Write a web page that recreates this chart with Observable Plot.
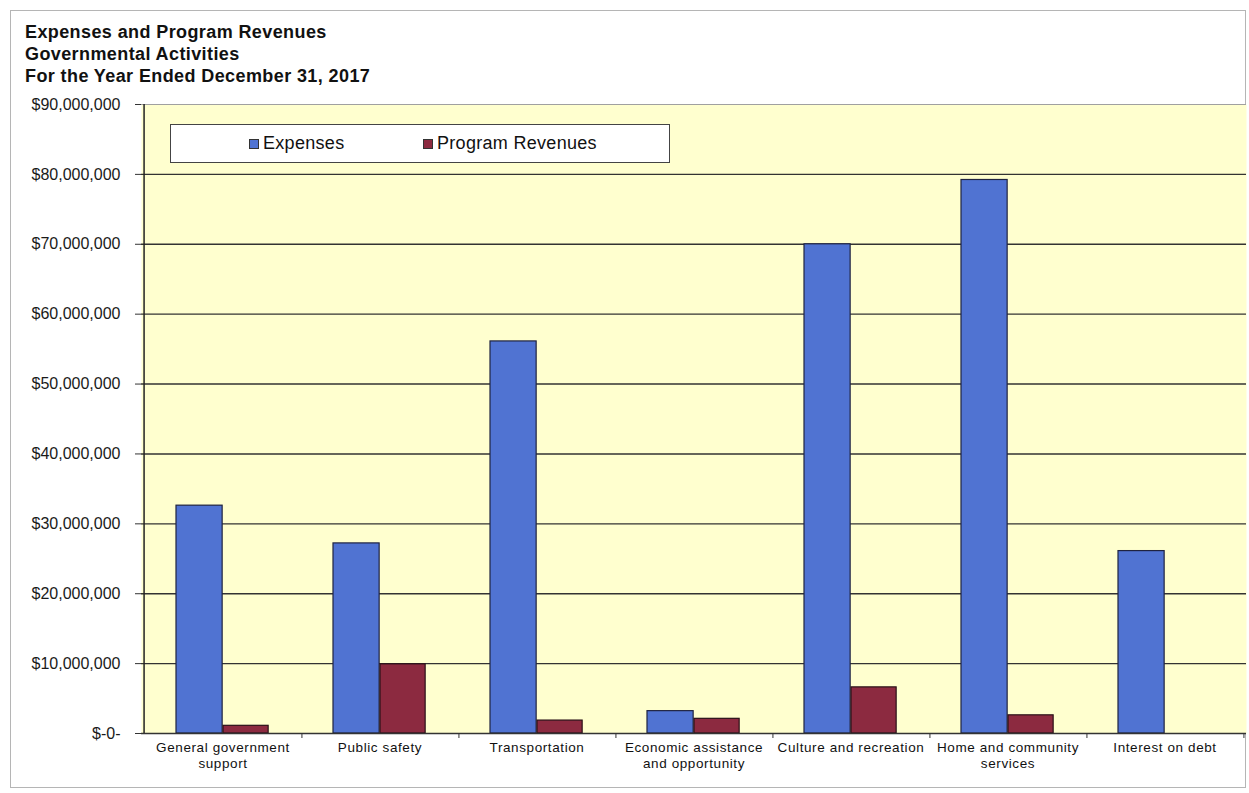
<!DOCTYPE html>
<html>
<head>
<meta charset="utf-8">
<script src="https://cdn.jsdelivr.net/npm/d3@7"></script>
<script src="https://cdn.jsdelivr.net/npm/@observablehq/plot@0.6"></script>
<style>
  html, body { margin: 0; padding: 0; background: #fff; }
  body { width: 1249px; height: 793px; position: relative; overflow: hidden; font-family: "Liberation Sans", Arial, sans-serif; }
  #frame { position: absolute; left: 10px; top: 10px; width: 1236px; height: 778px; border: 1px solid #b5b5b5; box-sizing: border-box; }
  #title { position: absolute; left: 25px; top: 21px; font-weight: bold; font-size: 18px; letter-spacing: 0.4px; line-height: 22px; color: #111; }
  #chart { position: absolute; left: 0; top: 90px; }
  #chart svg g[aria-label="x-axis tick label"] text { letter-spacing: 0.6px; }
  #legend { position: absolute; left: 170px; top: 124px; width: 500px; height: 39px; background: #fff; border: 1.8px solid #444; box-sizing: border-box; font-size: 18px; letter-spacing: 0.3px; color: #111; }
  .item { position: absolute; top: 8px; display: flex; align-items: center; }
  .sw { width: 8px; height: 8px; border: 1px solid #333; margin-right: 4px; }
</style>
</head>
<body>
<div id="frame"></div>
<div id="title">Expenses and Program Revenues<br>Governmental Activities<br>For the Year Ended December 31, 2017</div>
<div id="chart"></div>
<div id="legend">
  <div class="item" style="left:78px"><div class="sw" style="background:#5073d2"></div>Expenses</div>
  <div class="item" style="left:252px"><div class="sw" style="background:#8c2a40"></div>Program Revenues</div>
</div>
<script>
const categories = [
  "General government\nsupport",
  "Public safety",
  "Transportation",
  "Economic assistance\nand opportunity",
  "Culture and recreation",
  "Home and community\nservices",
  "Interest on debt"
];
const expenses = [32600000, 27200000, 56100000, 3200000, 70000000, 79200000, 26100000];
const programRevenues = [1100000, 9900000, 1850000, 2100000, 6600000, 2600000, 0];
const yTicks = [0, 10000000, 20000000, 30000000, 40000000, 50000000, 60000000, 70000000, 80000000, 90000000];

const expData = categories.map((c, i) => ({category: c, value: expenses[i]}));
const revData = categories.map((c, i) => ({category: c, value: programRevenues[i]}));
const fmt = d => d === 0 ? "$-0-" : "$" + d3.format(",")(d);

const W = 1249, H = 703;
const ml = 141, mr = 3;
const step = (W - ml - mr) / categories.length;
const half = step / 2;

const chart = Plot.plot({
  width: W,
  height: H,
  marginLeft: ml,
  marginRight: mr,
  marginTop: 14,
  marginBottom: 60,
  style: {fontFamily: "'Liberation Sans', Arial, sans-serif", color: "#111", background: "transparent"},
  x: {domain: categories, padding: 0, label: null},
  y: {domain: [0, 90000000], label: null},
  marks: [
    Plot.frame({fill: "#ffffcf", stroke: "none"}),
    Plot.ruleY(yTicks.filter(d => d > 0 && d < 90000000), {stroke: "#333", strokeWidth: 1.4}),
    Plot.ruleY([90000000], {stroke: "#a0a0a0", strokeWidth: 1.2}),
    Plot.barY(expData, {x: "category", y: "value", fill: "#5073d2", stroke: "#1f2340", strokeWidth: 1.2, insetLeft: 32, insetRight: step - 79}),
    Plot.barY(revData.filter(d => d.value > 0), {x: "category", y: "value", fill: "#8c2a40", stroke: "#2a1118", strokeWidth: 1.2, insetLeft: 79, insetRight: step - 125}),
    Plot.ruleY([0], {stroke: "#333", strokeWidth: 1.5}),
    Plot.ruleX([categories[0]], {dx: -half, y1: 0, y2: 90000000, stroke: "#222", strokeWidth: 1.5}),
    Plot.axisY({ticks: yTicks, tickFormat: fmt, tickSize: 6, tickPadding: 15, fontSize: 16, stroke: "#333", fill: "#1a1a1a", label: null}),
    Plot.axisX({tickSize: 0, tickPadding: 7, fontSize: 13.5, lineHeight: 1.2, fill: "#111", label: null}),
    Plot.axisX({tickSize: 5, tickFormat: () => "", dx: half, stroke: "#333", label: null})
  ]
});
document.getElementById("chart").appendChild(chart);
</script>
</body>
</html>
